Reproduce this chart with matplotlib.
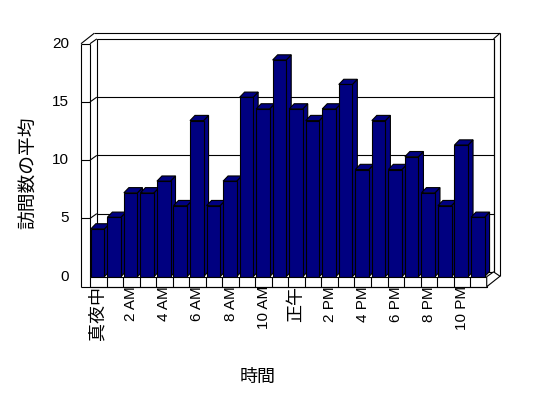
import matplotlib
matplotlib.use('Agg')
import matplotlib.pyplot as plt
from matplotlib.patches import Polygon, Rectangle

plt.rcParams['font.family'] = ['Liberation Sans', 'Noto Sans CJK JP']

# average visits per hour (0..23)
hours = list(range(24))
visits = [4.1, 5.1, 7.2, 7.2, 8.2, 6.1, 13.4, 6.1, 8.2, 15.4, 14.4, 18.6,
          14.4, 13.4, 14.4, 16.5, 9.2, 13.4, 9.2, 10.3, 7.2, 6.1, 11.3, 5.1]
tick_labels = ['真夜中', '2 AM', '4 AM', '6 AM', '8 AM', '10 AM',
               '正午', '2 PM', '4 PM', '6 PM', '8 PM', '10 PM']
y_ticks = [0, 5, 10, 15, 20]

NAVY = '#000080'
LW = 0.8

# pixel scale of the plot (category width, value unit)
CAT = 16.53
UNIT = 11.65

fig = plt.figure(figsize=(5.48, 3.98), dpi=100)
ax = fig.add_axes([0, 0, 1, 1])
ax.set_xlim(-90 / CAT, (548 - 90) / CAT)
ax.set_ylim(-(398 - 276.7) / UNIT, 276.7 / UNIT)
ax.axis('off')

n = len(hours)
ymax = 20
# depth offsets in data units
d1x, d1y = 6.8 / CAT, 4.8 / UNIT      # floor depth -> front of back wall
d2x, d2y = 13.3 / CAT, 10.5 / UNIT    # back of back wall
fb = -10 / UNIT                        # bottom of floor slab
xl_out = -9 / CAT                      # outer face of left wall
bdx, bdy = 5 / CAT, 5.2 / UNIT         # bar depth
bw, boff = 0.82, 0.05


def line(xs, ys, z=3):
    ax.plot(xs, ys, color='black', lw=LW, zorder=z, solid_capstyle='butt')


# back wall panel
ax.add_patch(Rectangle((d1x, d1y), n, ymax, facecolor='white',
                       edgecolor='black', lw=LW, zorder=1))
for v in y_ticks[1:-1]:
    line([xl_out, 0], [v, v], z=2)
    line([0, d1x], [v, v + d1y], z=2)
    line([d1x, n + d1x], [v + d1y, v + d1y], z=2)

# left wall
line([xl_out, xl_out], [fb, ymax])
line([0, 0], [0, ymax])
line([xl_out, 0], [ymax, ymax])
line([xl_out, xl_out + d2x], [ymax, ymax + d2y])
line([0, d1x], [ymax, ymax + d1y])
# top and right edges of back wall
line([xl_out + d2x, n + d2x], [ymax + d2y, ymax + d2y])
line([n + d1x, n + d2x], [ymax + d1y, ymax + d2y])
line([n + d2x, n + d2x], [ymax + d2y, fb + d2y])
line([n + d1x, n + d1x], [ymax + d1y, d1y])

# bars
for i, v in enumerate(visits):
    xl = i + boff
    xr = xl + bw
    side = Polygon([(xr, 0), (xr + bdx, bdy), (xr + bdx, v + bdy), (xr, v)],
                   closed=True, facecolor=NAVY, edgecolor='black', lw=LW, zorder=4)
    top = Polygon([(xl, v), (xr, v), (xr + bdx, v + bdy), (xl + bdx, v + bdy)],
                  closed=True, facecolor=NAVY, edgecolor='black', lw=LW, zorder=4)
    front = Rectangle((xl, 0), bw, v, facecolor=NAVY, edgecolor='black',
                      lw=LW, zorder=4)
    ax.add_patch(side)
    ax.add_patch(top)
    ax.add_patch(front)

# floor slab
ax.add_patch(Rectangle((0, fb), n, -fb, facecolor='white', edgecolor='black',
                       lw=LW, zorder=5))
line([xl_out, n], [fb, fb], z=6)
for k in range(1, n):
    line([k, k], [0, fb], z=6)
ax.add_patch(Polygon([(n, 0), (n + d1x, d1y), (n + d2x, fb + d2y), (n, fb)],
                     closed=True, facecolor='white', edgecolor='black',
                     lw=LW, zorder=5))

# y tick labels
for v in y_ticks:
    ax.text(-21 / CAT, v, str(v), ha='right', va='center', fontsize=11)

# x tick labels, every 2 hours
for j, lab in enumerate(tick_labels):
    cjk = not lab[0].isdigit()
    ax.text(2 * j + 0.5, -9.5 / UNIT, lab, rotation=90, ha='center', va='top',
            fontsize=13 if cjk else 11)

fig.text(258 / 548, 1 - 377 / 398, '時間', ha='center', va='center', fontsize=13)
fig.text(30 / 548, 1 - 173 / 398, '訪問数の平均', ha='center', va='center',
         rotation=90, fontsize=13.5)

fig.savefig('out.png', dpi=100, facecolor='white')
